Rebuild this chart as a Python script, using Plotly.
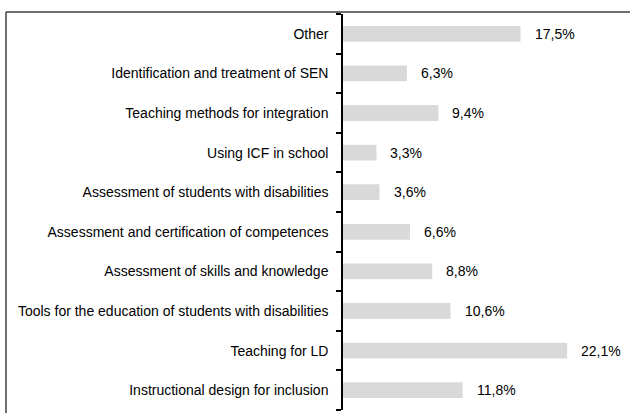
import plotly.graph_objects as go

# Categories listed bottom to top, as plotted on the y axis
categories = [
    "Instructional design for inclusion",
    "Teaching for LD",
    "Tools for the education of students with disabilities",
    "Assessment of skills and knowledge",
    "Assessment and certification of competences",
    "Assessment of students with disabilities",
    "Using ICF in school",
    "Teaching methods for integration",
    "Identification and treatment of SEN",
    "Other",
]
shares = [11.8, 22.1, 10.6, 8.8, 6.6, 3.6, 3.3, 9.4, 6.3, 17.5]

W, H = 630, 413
ML, MR, MT, MB = 343, 3, 14, 3
pw, ph = W - ML - MR, H - MT - MB
FONT = "Liberation Sans, Arial, sans-serif"

fig = go.Figure(
    go.Bar(
        x=shares,
        y=categories,
        orientation="h",
        marker=dict(color="#d9d9d9", line=dict(width=0)),
        width=0.4,
        hoverinfo="skip",
    )
)

# Value labels to the right of each bar, with decimal comma
for v, c in zip(shares, categories):
    fig.add_annotation(
        x=v, y=c, xref="x", yref="y",
        text=f"{v:.1f}".replace(".", ",") + "%",
        showarrow=False, xanchor="left", xshift=12,
        font=dict(family=FONT, size=14, color="black"),
    )

# Frame lines along the top and left edges
def px_x(px):
    return (px - ML) / pw

def px_y(py):
    return (H - MB - py) / ph

frame = dict(color="#404040", width=1.5)
fig.add_shape(type="line", xref="paper", yref="paper",
              x0=px_x(6), x1=px_x(W + 2), y0=px_y(12), y1=px_y(12), line=frame)
fig.add_shape(type="line", xref="paper", yref="paper",
              x0=px_x(6), x1=px_x(6), y0=px_y(12), y1=px_y(H + 2), line=frame)

fig.update_layout(
    width=W, height=H,
    margin=dict(l=ML, r=MR, t=MT, b=MB),
    paper_bgcolor="white", plot_bgcolor="white",
    showlegend=False,
    font=dict(family=FONT, size=14, color="black"),
    xaxis=dict(range=[0, 28], visible=False, fixedrange=True),
    yaxis=dict(
        type="category",
        categoryorder="array", categoryarray=categories,
        showline=True, linecolor="black", linewidth=1.5,
        ticks="outside", ticklen=5, tickwidth=1.5, tickcolor="black",
        tickson="boundaries",
        ticklabelstandoff=10,
        showgrid=False, zeroline=False,
        tickfont=dict(family=FONT, size=14, color="black"),
        fixedrange=True,
    ),
)

fig.write_html("out.html")
